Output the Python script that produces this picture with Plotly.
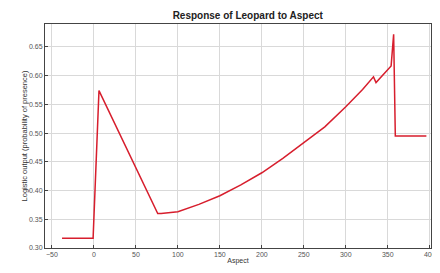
import plotly.graph_objects as go

aspect = [-38, -1, 6, 76, 80, 100, 125, 150, 175, 200, 225, 250, 275, 300, 320, 333, 336, 354, 357, 359, 396]
response = [0.317, 0.317, 0.574, 0.360, 0.360, 0.363, 0.376, 0.391, 0.410, 0.431, 0.456, 0.483,
            0.511, 0.546, 0.576, 0.598, 0.588, 0.617, 0.672, 0.495, 0.495]

x_ticks = [-50, 0, 50, 100, 150, 200, 250, 300, 350, 400]
y_ticks = [0.30, 0.35, 0.40, 0.45, 0.50, 0.55, 0.60, 0.65]

fig = go.Figure()
fig.add_trace(go.Scatter(x=aspect, y=response, mode="lines",
                         line=dict(color="rgb(215,30,45)", width=1.5),
                         showlegend=False, hoverinfo="skip"))

axis_common = dict(showline=True, linecolor="#444", linewidth=1, mirror=True,
                   showgrid=True, gridcolor="#d9d9d9", gridwidth=1,
                   ticks="inside", ticklen=3, tickcolor="#444",
                   tickfont=dict(family="Liberation Sans, Arial", size=7, color="#555"),
                   zeroline=False, automargin=False)

# page body adds an 8px offset; figure sized to fill the remaining window
fig.update_layout(
    width=432, height=265,
    margin=dict(l=37, r=9, t=16, b=25),
    paper_bgcolor="white", plot_bgcolor="white",
    title=dict(text="<b>Response of Leopard to Aspect</b>", x=0.555, xanchor="center",
               y=0.972, yanchor="middle",
               font=dict(family="Liberation Sans, Arial", size=10, color="#222")),
    xaxis=dict(range=[-58.3, 401.5], tickvals=x_ticks,
               title=dict(text="Aspect", standoff=0,
                          font=dict(family="Liberation Sans, Arial", size=7, color="#333")),
               **axis_common),
    yaxis=dict(range=[0.30, 0.69], tickvals=y_ticks, tickformat=".2f",
               title=dict(text="Logistic output (probability of presence)", standoff=0,
                          font=dict(family="Liberation Sans, Arial", size=7.5, color="#333")),
               **axis_common),
)

fig.write_html("out.html")
